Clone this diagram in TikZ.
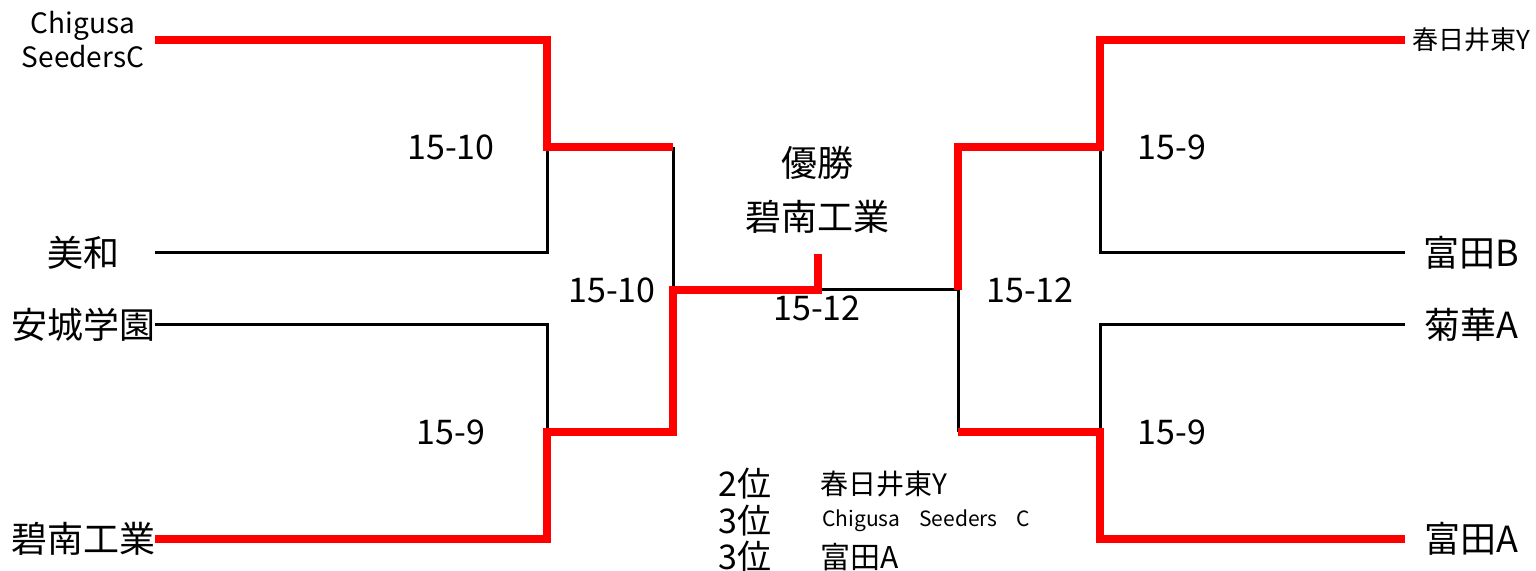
\documentclass[tikz,border=0pt]{standalone}
\usepackage{fontspec}
\setmainfont{Noto Sans CJK JP}
\begin{document}
\begin{tikzpicture}[x=0.5pt,y=-0.5pt,
  lose/.style={draw=black,line width=1.5pt},
  win/.style={draw=red,line width=3.8pt},
  team/.style={inner sep=0pt,font=\fontsize{18}{20}\selectfont},
  scoretxt/.style={inner sep=0pt,font=\fontsize{17}{19}\selectfont},
  rank/.style={inner sep=0pt,anchor=west,font=\fontsize{17}{19}\selectfont}]
\useasboundingbox (0,0) rectangle (1536,571);
% line ends
\coordinate (L1) at (155,40);
\coordinate (L2) at (155,253);
\coordinate (L3) at (155,325);
\coordinate (L4) at (155,539);
\coordinate (R1) at (1405,40);
\coordinate (R2) at (1405,253);
\coordinate (R3) at (1405,325);
\coordinate (R4) at (1405,539);
% junctions
\coordinate (a1) at (547,147);
\coordinate (a2) at (547,432);
\coordinate (p1) at (673,147);
\coordinate (p2) at (673,432);
\coordinate (b) at (673,290);
\coordinate (c) at (818,290);
\coordinate (top) at (818,254);
\coordinate (d) at (958,290);
\coordinate (q1) at (958,147);
\coordinate (q2) at (958,432);
\coordinate (e1) at (1100,147);
\coordinate (e2) at (1100,432);
% black lines
\draw[lose] (L2) -| (a1);
\draw[lose] (L3) -| (a2);
\draw[lose] (p1) -- (b);
\draw[lose] (c) -- (d) -- (q2);
\draw[lose] (R2) -| (e1);
\draw[lose] (R3) -| (e2);
% red lines
\draw[win] (L1) -| (a1) -- (p1);
\draw[win] (L4) -| (a2) -- (p2) -- (b) -- (c) -- (top);
\draw[win] (R1) -| (e1) -- (q1) -- (d);
\draw[win] (R4) -| (e2) -- (q2);
% team labels
\node[team,align=center,font=\fontsize{14}{17}\selectfont] (t1) at (83,40) {Chigusa\\SeedersC};
\node[team] (t2) at (83,253) {美和};
\node[team] (t3) at (83,325) {安城学園};
\node[team] (t4) at (83,539) {碧南工業};
\node[team,font=\fontsize{13}{15}\selectfont] (t5) at (1471,40) {春日井東Y};
\node[team] (t6) at (1471,253) {富田B};
\node[team] (t7) at (1471,325) {菊華A};
\node[team] (t8) at (1471,539) {富田A};
% scores
\node[scoretxt] (s1) at (451,147) {15-10};
\node[scoretxt] (s2) at (612,290) {15-10};
\node[scoretxt] (s3) at (451,432) {15-9};
\node[scoretxt] (s4) at (817,308) {15-12};
\node[scoretxt] (s5) at (1030,290) {15-12};
\node[scoretxt] (s6) at (1172,147) {15-9};
\node[scoretxt] (s7) at (1172,432) {15-9};
% champion
\node[team] (ch1) at (817,163) {優勝};
\node[team] (ch2) at (817,217) {碧南工業};
% ranking
\node[rank] (r1) at (718,484) {2位};
\node[rank] (r2) at (718,521) {3位};
\node[rank] (r3) at (718,557) {3位};
\node[rank,font=\fontsize{14}{16}\selectfont] (n1) at (820,484) {春日井東Y};
\node[rank,font=\fontsize{10.5}{12}\selectfont] (n2) at (822,521) {Chigusa\hspace{0.9em}Seeders\hspace{0.9em}C};
\node[rank,font=\fontsize{15}{17}\selectfont] (n3) at (820,557) {富田A};
\end{tikzpicture}
\end{document}
